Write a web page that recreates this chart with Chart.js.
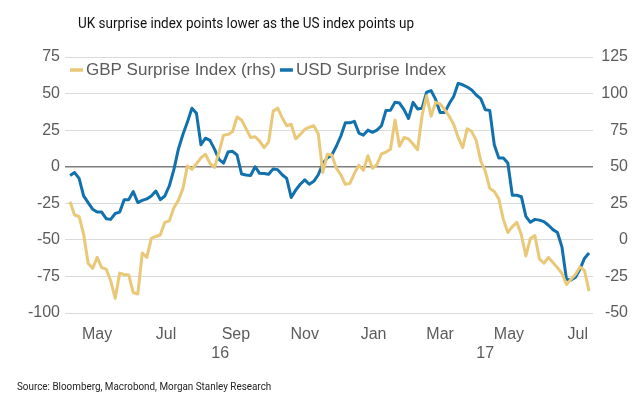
<!DOCTYPE html>
<html>
<head>
<meta charset="utf-8">
<script src="https://cdn.jsdelivr.net/npm/chart.js@4.4.1/dist/chart.umd.min.js"></script>
<style>
  html, body { margin: 0; padding: 0; background: #fff; }
  #wrap { position: relative; width: 635px; height: 394px; }
  #title {
    position: absolute; left: 78px; top: 13px; white-space: nowrap;
    font-family: Roboto, "Noto Sans", sans-serif; font-size: 15.5px; line-height: 20px;
    color: #111; transform: scaleX(0.87); transform-origin: left top;
  }
  #source {
    position: absolute; left: 17px; top: 381px; white-space: nowrap;
    font-family: Roboto, "Noto Sans", sans-serif; font-size: 10.5px; line-height: 12px;
    color: #222; transform: scaleX(0.94); transform-origin: left top;
  }
</style>
</head>
<body>
<div id="wrap">
  <canvas id="chart"></canvas>
  <div id="title">UK surprise index points lower as the US index points up</div>
  <div id="source">Source: Bloomberg, Macrobond, Morgan Stanley Research</div>
</div>
<script>
// series sampled every 4 days starting 22 Apr 2016
const START_DATE = '2016-04-22';
const STEP_DAYS = 4;

// GBP surprise index, right axis (rhs)
const gbpValues = [
  26, 17, 16, 4, -16, -19.5, -12, -19, -20, -28,
  -40, -22.7, -23.7, -24, -36, -37, -9, -12, 1, 2.3,
  3.5, 12, 13, 22, 27, 35, 50.5, 48.2, 52, 56,
  58.5, 52.3, 49.5, 60, 71.6, 72, 73.9, 84, 82, 76,
  70, 70.5, 67.5, 63, 67, 88, 90, 83.5, 78, 79,
  69, 72, 75.5, 77, 78, 72.5, 46, 58.5,
  58, 49, 44.5, 38, 38.6, 45.5, 51, 47.5, 57.5, 48.9,
  51.5, 58.7, 60, 62, 82, 64, 70, 69, 65.5, 61.6,
  85, 98.5, 84.5, 94, 93, 89, 84.5, 79, 70,
  63, 76, 74, 68, 54, 47, 35.2, 33, 28, 14,
  5, 9, 12, 3.5, -11, 1, 3, -13, -16, -12,
  -15.5, -19, -23, -30.5, -27, -23.5, -18.5, -21, -35
];

// USD surprise index, left axis
const usdValues = [
  -6, -4, -8, -20, -24.5, -29, -31, -31, -35.5, -36,
  -32, -31, -22.5, -22.5, -17, -24.5, -23, -22, -20, -16.6,
  -22.5, -20, -13, -2, 12, 22, 30.5, 40, 36.5, 15,
  19.5, 18, 12, 5, 2.5, 10, 10.5, 8, -5, -5.7,
  -6, 0, -4.5, -4.7, -5.2, -1.5, -2, -5.5, -8, -21,
  -16, -12, -9, -12, -10, -5.5, 2, 6,
  8, 14, 21, 30, 30, 31, 23, 21.6, 25, 23.5,
  25, 28, 38.5, 38.6, 44, 43.5, 39, 33, 44, 39.5,
  40, 51, 52, 46, 37, 37, 43, 48, 57,
  56, 54.5, 52.5, 49, 46.5, 39, 38.5, 15, 6, 6,
  2.5, -19.5, -19.5, -20.5, -34, -38, -36, -36.5, -37.5, -40,
  -43, -45, -55, -77, -77.5, -75.5, -70, -62.5, -59
];

const seriesNames = ['GBP Surprise Index (rhs)', 'USD Surprise Index'];
const seriesColors = ['#E9C877', '#1171AD'];

const monthLabels = ['May', 'Jul', 'Sep', 'Nov', 'Jan', 'Mar', 'May', 'Jul'];
const monthDates = ['2016-05-16', '2016-07-16', '2016-09-16', '2016-11-16',
                    '2017-01-16', '2017-03-16', '2017-05-16', '2017-07-16'];
const yearLabels = ['16', '17'];
const yearDates = ['2016-09-02', '2017-04-25'];

const leftTicks = [-100, -75, -50, -25, 0, 25, 50, 75];
const rightTicks = [-50, -25, 0, 25, 50, 75, 100, 125];

const AXIS_FONT = { family: '"Liberation Sans", Arial, sans-serif', size: 16 };
const TEXT_GREY = '#5b5b5b';

function dayOf(s) {
    return (Date.parse(s) - Date.parse(START_DATE)) / 864e5;
}

function toPoints(values) {
    return values.map((v, i) => ({ x: i * STEP_DAYS, y: v }));
}

// legend drawn inside the plot, top-left
const innerLegend = {
    id: 'innerLegend',
    afterDraw(chart) {
        const ctx = chart.ctx;
        const area = chart.chartArea;
        let x = area.left + 5;
        const y = area.top + 13;
        ctx.save();
        ctx.font = '17px "Liberation Sans", Arial, sans-serif';
        ctx.textBaseline = 'middle';
        ctx.textAlign = 'left';
        chart.data.datasets.forEach(ds => {
            ctx.strokeStyle = ds.borderColor;
            ctx.lineWidth = 3.5;
            ctx.beginPath();
            ctx.moveTo(x, y);
            ctx.lineTo(x + 13, y);
            ctx.stroke();
            x += 16;
            ctx.fillStyle = TEXT_GREY;
            ctx.fillText(ds.label, x, y);
            x += ctx.measureText(ds.label).width + 4;
        });
        ctx.restore();
    }
};

// year labels under the month ticks
const yearAxis = {
    id: 'yearAxis',
    afterDraw(chart) {
        const ctx = chart.ctx;
        const xs = chart.scales.x;
        ctx.save();
        ctx.font = '16px "Liberation Sans", Arial, sans-serif';
        ctx.fillStyle = TEXT_GREY;
        ctx.textAlign = 'center';
        ctx.textBaseline = 'middle';
        yearLabels.forEach((lab, i) => {
            ctx.fillText(lab, xs.getPixelForValue(dayOf(yearDates[i])), 354);
        });
        ctx.restore();
    }
};

new Chart(document.getElementById('chart'), {
    type: 'line',
    data: {
        datasets: [
            {
                label: seriesNames[0],
                data: toPoints(gbpValues),
                yAxisID: 'y1',
                borderColor: seriesColors[0],
                backgroundColor: seriesColors[0],
                borderWidth: 3,
                pointRadius: 0,
                tension: 0,
                borderJoinStyle: 'round'
            },
            {
                label: seriesNames[1],
                data: toPoints(usdValues),
                yAxisID: 'y',
                borderColor: seriesColors[1],
                backgroundColor: seriesColors[1],
                borderWidth: 3,
                pointRadius: 0,
                tension: 0,
                borderJoinStyle: 'round'
            }
        ]
    },
    options: {
        responsive: true,
        maintainAspectRatio: false,
        animation: false,
        layout: { padding: { top: 57, right: 7, bottom: 0, left: 0 } },
        plugins: {
            legend: { display: false },
            title: { display: false },
            tooltip: { enabled: false }
        },
        scales: {
            x: {
                type: 'linear',
                min: -4.5,
                max: 463.5,
                grid: { display: false, drawTicks: false },
                border: { display: false },
                afterBuildTicks: scale => {
                    scale.ticks = monthDates.map(d => ({ value: dayOf(d) }));
                },
                afterFit: scale => { scale.height = 81; },
                ticks: {
                    autoSkip: false,
                    maxRotation: 0,
                    padding: 12,
                    color: TEXT_GREY,
                    font: AXIS_FONT,
                    callback: (v, i) => monthLabels[i]
                }
            },
            y: {
                position: 'left',
                min: -100,
                max: 75,
                afterBuildTicks: scale => {
                    scale.ticks = leftTicks.map(v => ({ value: v }));
                },
                afterFit: scale => { scale.width = 65; },
                grid: {
                    drawTicks: false,
                    color: c => c.tick.value === 0 ? '#7d7d7d' : '#dadada',
                    lineWidth: c => c.tick.value === 0 ? 1.5 : 1
                },
                border: { display: false },
                ticks: { padding: 5, color: TEXT_GREY, font: AXIS_FONT }
            },
            y1: {
                position: 'right',
                min: -50,
                max: 125,
                afterBuildTicks: scale => {
                    scale.ticks = rightTicks.map(v => ({ value: v }));
                },
                afterFit: scale => { scale.width = 35; },
                grid: { display: false, drawTicks: false },
                border: { display: false },
                ticks: { crossAlign: 'far', padding: 7, color: TEXT_GREY, font: AXIS_FONT }
            }
        }
    },
    plugins: [innerLegend, yearAxis]
});
</script>
</body>
</html>
